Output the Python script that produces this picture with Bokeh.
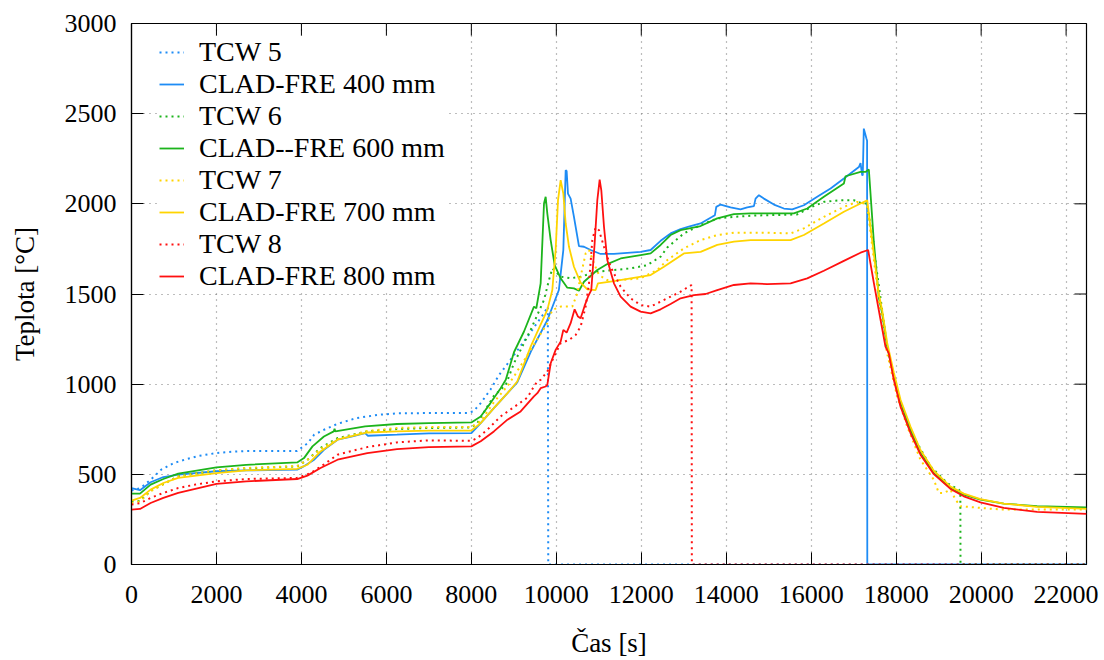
import math
from bokeh.plotting import figure
from bokeh.models import Range1d, FixedTicker, Legend, LegendItem
from bokeh.embed import file_html
from bokeh.resources import INLINE

X_TICKS = list(range(0, 22001, 2000))
Y_TICKS = [0, 500, 1000, 1500, 2000, 2500, 3000]

TCW5_T = [0, 220, 450, 700, 1000, 1300, 1600, 2000, 2350, 2700, 3100, 3900, 4150, 4300, 4530, 4850, 5300, 5800, 6250, 7000, 7900, 8050, 8220, 8450, 8650, 9000, 9400, 9700, 9800, 9810, 22480]
TCW5_V = [410, 425, 470, 526, 563, 585, 603, 618, 625, 629, 629, 630, 673, 720, 747, 780, 812, 830, 838, 840, 840, 850, 895, 970, 1050, 1160, 1290, 1390, 1430, 0, 0]

CLAD400_T = [0, 200, 450, 750, 1100, 2000, 2700, 3900, 4050, 4300, 4530, 4850, 5200, 5500, 5560, 6250, 7000, 8000, 8220, 8530, 8850, 9080, 9400, 9790, 10060, 10165, 10220, 10243, 10274, 10337, 10415, 10533, 10651, 10808, 11043, 11357, 11984, 12220, 12455, 12690, 12925, 13160, 13396, 13670, 13733, 13765, 13867, 14102, 14337, 14494, 14651, 14690, 14769, 14886, 15122, 15357, 15553, 15827, 16141, 16455, 16769, 17122, 17161, 17200, 17214, 17238, 17300, 17315, 17320, 22480]
CLAD400_V = [424, 412, 456, 485, 498, 517, 522, 526, 544, 581, 636, 692, 710, 729, 714, 720, 727, 729, 784, 867, 950, 1010, 1180, 1356, 1522, 1744, 2186, 2182, 2057, 2029, 1928, 1766, 1762, 1744, 1722, 1722, 1734, 1744, 1795, 1836, 1860, 1877, 1891, 1928, 1937, 1983, 1996, 1980, 1969, 1980, 1987, 2029, 2048, 2029, 1996, 1974, 1969, 1992, 2039, 2085, 2140, 2204, 2226, 2158, 2160, 2417, 2362, 2350, 0, 0]

TCW6_T = [0, 200, 450, 1100, 2000, 2700, 3900, 4140, 4450, 4850, 5550, 6250, 7000, 8000, 8140, 8530, 8810, 9003, 9396, 9710, 9827, 9906, 10102, 10337, 10572, 10965, 11357, 11749, 12141, 12455, 12611, 13003, 13396, 13788, 14180, 14572, 14965, 15670, 15984, 16298, 16690, 17004, 17200, 17318, 17474, 17787, 18023, 18258, 18494, 18808, 19200, 19474, 19510, 19514, 22480]
TCW6_V = [350, 352, 410, 489, 522, 533, 544, 580, 646, 701, 738, 751, 757, 760, 784, 935, 996, 1116, 1301, 1467, 1577, 1642, 1596, 1587, 1596, 1624, 1633, 1642, 1660, 1707, 1758, 1836, 1882, 1919, 1928, 1934, 1937, 1941, 1980, 2011, 2020, 2020, 2002, 2002, 1750, 1208, 960, 784, 673, 544, 452, 415, 405, 0, 0]

CLAD600_T = [0, 200, 450, 750, 1100, 2000, 2700, 3900, 4060, 4260, 4530, 4760, 4780, 4800, 5500, 6250, 7000, 8000, 8220, 8450, 8690, 8810, 9003, 9239, 9474, 9529, 9631, 9710, 9749, 9788, 9867, 9961, 10102, 10259, 10415, 10533, 10651, 10965, 11200, 11514, 11984, 12220, 12455, 12690, 12925, 13396, 13788, 14180, 14572, 15592, 15906, 16298, 16769, 16808, 17161, 17278, 17357, 17474, 17591, 17670, 17787, 17944, 18101, 18337, 18572, 18886, 19278, 19592, 19984, 20533, 21317, 22480]
CLAD600_V = [393, 393, 443, 474, 504, 539, 553, 566, 590, 655, 710, 738, 752, 738, 766, 779, 784, 788, 821, 895, 978, 1024, 1177, 1292, 1430, 1421, 1559, 2002, 2039, 1946, 1799, 1660, 1587, 1535, 1531, 1518, 1568, 1633, 1666, 1697, 1716, 1725, 1772, 1827, 1854, 1877, 1919, 1943, 1947, 1947, 1974, 2039, 2113, 2153, 2177, 2177, 2190, 1790, 1480, 1393, 1208, 1043, 895, 747, 618, 507, 424, 387, 360, 338, 323, 316]

TCW7_T = [0, 200, 450, 1100, 2000, 2700, 3900, 4140, 4450, 4850, 5550, 6250, 7000, 8000, 8220, 8530, 8850, 9003, 9396, 9788, 9906, 10102, 10376, 10494, 10572, 10690, 10769, 10886, 11004, 11200, 11514, 11984, 12376, 12611, 13003, 13396, 13788, 14180, 14965, 15514, 15827, 16298, 16769, 17083, 17239, 17318, 17470, 17630, 17787, 18023, 18258, 18572, 18886, 19003, 19121, 19278, 19396, 19514, 19984, 20455, 21317, 22480]
TCW7_V = [341, 350, 406, 489, 522, 535, 546, 580, 640, 695, 740, 757, 762, 762, 795, 900, 990, 1043, 1190, 1338, 1412, 1430, 1430, 1504, 1596, 1725, 1744, 1670, 1605, 1577, 1577, 1587, 1633, 1688, 1753, 1799, 1827, 1840, 1840, 1836, 1864, 1928, 1983, 2011, 2002, 1992, 1700, 1393, 1171, 932, 766, 581, 470, 397, 397, 415, 360, 323, 314, 305, 305, 305]

CLAD700_T = [0, 200, 450, 750, 1100, 2000, 2700, 3900, 4140, 4450, 4850, 5550, 6250, 7000, 8000, 8220, 8530, 8850, 9080, 9396, 9788, 9906, 9984, 10040, 10102, 10165, 10220, 10298, 10415, 10572, 10729, 10925, 10980, 11357, 11749, 12220, 12533, 13003, 13396, 13788, 14180, 14572, 15514, 15827, 16298, 16769, 17161, 17318, 17475, 17591, 17670, 17787, 17944, 18101, 18337, 18572, 18886, 19278, 19592, 19984, 20533, 21317, 22480]
CLAD700_V = [354, 369, 415, 452, 480, 507, 522, 530, 553, 627, 692, 732, 738, 742, 743, 784, 867, 950, 1015, 1208, 1412, 1522, 1744, 2020, 2131, 2057, 1891, 1762, 1651, 1563, 1526, 1522, 1559, 1572, 1587, 1605, 1651, 1725, 1734, 1772, 1790, 1799, 1799, 1827, 1891, 1956, 2002, 2020, 1720, 1500, 1410, 1230, 1065, 915, 765, 635, 520, 432, 393, 363, 338, 320, 309]

TCW8_T = [0, 200, 450, 750, 1100, 1500, 2000, 2700, 3900, 4220, 4530, 4850, 5550, 6250, 7000, 8000, 8140, 8376, 8689, 9082, 9318, 9473, 9553, 9631, 9788, 9945, 10102, 10298, 10455, 10572, 10690, 10769, 10847, 10925, 11004, 11122, 11278, 11514, 11749, 11984, 12220, 12455, 12690, 12925, 13184, 13190, 22480]
TCW8_V = [332, 340, 369, 397, 424, 443, 461, 474, 480, 507, 555, 609, 651, 677, 688, 686, 701, 747, 821, 886, 925, 987, 1015, 1024, 1070, 1153, 1227, 1245, 1273, 1319, 1430, 1559, 1799, 1869, 1854, 1762, 1651, 1540, 1476, 1439, 1430, 1458, 1485, 1513, 1550, 0, 0]

CLAD800_T = [0, 200, 450, 750, 1100, 2000, 2700, 3900, 4140, 4450, 4850, 5550, 6250, 7000, 8000, 8220, 8530, 8850, 9160, 9473, 9553, 9631, 9748, 9788, 9867, 9984, 10102, 10165, 10243, 10337, 10431, 10510, 10572, 10666, 10745, 10823, 10902, 10965, 11020, 11059, 11122, 11200, 11357, 11514, 11749, 11984, 12220, 12455, 12690, 12925, 13239, 13514, 13788, 14180, 14572, 14965, 15514, 15906, 16298, 16769, 17161, 17340, 17475, 17630, 17748, 17826, 17944, 18101, 18337, 18572, 18886, 19278, 19592, 19984, 20533, 21317, 22480]
CLAD800_V = [304, 308, 341, 369, 397, 447, 461, 474, 493, 535, 581, 618, 640, 651, 655, 683, 738, 803, 849, 932, 950, 978, 987, 996, 1116, 1190, 1236, 1301, 1286, 1338, 1415, 1375, 1365, 1434, 1485, 1522, 1780, 2020, 2134, 2075, 1873, 1688, 1559, 1485, 1430, 1402, 1393, 1415, 1445, 1476, 1494, 1500, 1522, 1550, 1559, 1555, 1559, 1587, 1629, 1684, 1729, 1744, 1560, 1360, 1208, 1171, 1024, 876, 729, 609, 501, 419, 378, 345, 314, 292, 281]

LABELS = ["TCW 5", "CLAD-FRE 400 mm", "TCW 6", "CLAD--FRE 600 mm",
          "TCW 7", "CLAD-FRE 700 mm", "TCW 8", "CLAD-FRE 800 mm"]

BLUE = "#1e8cf5"
GREEN = "#1cb41c"
YELLOW = "#ffd400"
RED = "#ff1010"
FONT = "Liberation Serif, DejaVu Serif, serif"

SERIES = [
    (TCW5_T, TCW5_V, BLUE, True),
    (CLAD400_T, CLAD400_V, BLUE, False),
    (TCW6_T, TCW6_V, GREEN, True),
    (CLAD600_T, CLAD600_V, GREEN, False),
    (TCW7_T, TCW7_V, YELLOW, True),
    (CLAD700_T, CLAD700_V, YELLOW, False),
    (TCW8_T, TCW8_V, RED, True),
    (CLAD800_T, CLAD800_V, RED, False),
]

p = figure(width=1104, height=660, x_range=Range1d(0, 22480), y_range=Range1d(0, 3000),
           output_backend="svg", toolbar_location=None,
           min_border_left=131, min_border_right=18, min_border_top=23, min_border_bottom=95)
p.background_fill_color = "white"
p.border_fill_color = "white"
p.outline_line_color = "black"
p.outline_line_width = 1.2

xt = FixedTicker(ticks=X_TICKS)
yt = FixedTicker(ticks=Y_TICKS)

xa = p.xaxis[0]
ya = p.yaxis[0]
xa.ticker = xt
ya.ticker = yt
for ax in (xa, ya):
    ax.axis_line_color = "black"
    ax.axis_line_width = 1.2
    ax.major_tick_line_color = "black"
    ax.major_tick_line_width = 1
    ax.major_tick_in = 12
    ax.major_tick_out = 0
    ax.minor_tick_line_color = None
    ax.major_label_text_font = FONT
    ax.major_label_text_font_size = "26px"
    ax.major_label_text_color = "black"
    ax.axis_label_text_font = FONT
    ax.axis_label_text_font_size = "27px"
    ax.axis_label_text_font_style = "normal"
    ax.axis_label_text_color = "black"
xa.axis_label = "Čas [s]"
ya.axis_label = "Teplota [°C]"
xa.major_label_standoff = 21
xa.axis_label_standoff = 22
ya.major_label_standoff = 15
ya.axis_label_standoff = 22

p.xgrid.ticker = xt
p.ygrid.ticker = yt
for g in (p.xgrid, p.ygrid):
    g.grid_line_color = "#7a7a7a"
    g.grid_line_dash = "1 5"
    g.grid_line_width = 1.2

# mirrored inside ticks on the top and right frame edges
p.ray(x=X_TICKS, y=[p.y_range.end] * len(X_TICKS), length=12, length_units="screen",
      angle=-math.pi / 2, line_color="black", line_width=1)
p.ray(x=[p.x_range.end] * len(Y_TICKS), y=Y_TICKS, length=12, length_units="screen",
      angle=math.pi, line_color="black", line_width=1)

renderers = []
for t, v, c, dotted in SERIES:
    if dotted:
        r = p.line(t, v, line_color=c, line_width=2, line_dash="2 4")
    else:
        r = p.line(t, v, line_color=c, line_width=1.8)
    renderers.append(r)

legend = Legend(items=[LegendItem(label=lab, renderers=[r]) for lab, r in zip(LABELS, renderers)],
                location=(28, 272))
legend.glyph_width = 25
legend.glyph_height = 32
legend.label_height = 32
legend.label_standoff = 15
legend.spacing = 0
legend.padding = 8
legend.margin = 0
legend.border_line_color = None
legend.background_fill_color = "white"
legend.background_fill_alpha = 1
legend.label_text_font = FONT
legend.label_text_font_size = "28px"
legend.label_text_color = "black"
p.add_layout(legend)

open("out.html", "w").write(file_html(p, INLINE))
